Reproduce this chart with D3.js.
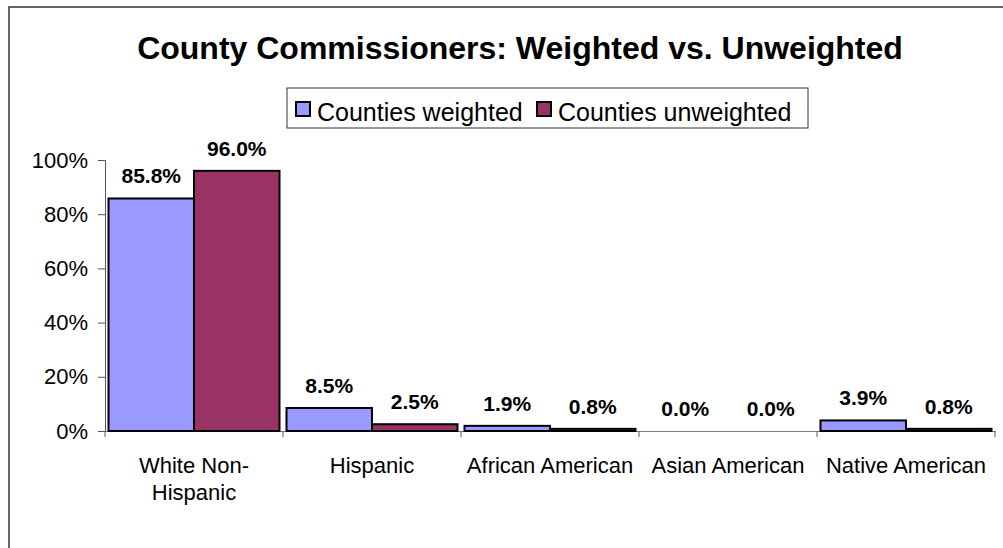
<!DOCTYPE html>
<html>
<head>
<meta charset="utf-8">
<script src="https://cdn.jsdelivr.net/npm/d3@7"></script>
<style>
  body { margin: 0; background: #fff; }
  text { font-family: "Liberation Sans", Arial, sans-serif; fill: #000; }
</style>
</head>
<body>
<div id="chart"></div>
<script>
// data
const categories = ["White Non-Hispanic", "Hispanic", "African American", "Asian American", "Native American"];
const seriesNames = ["Counties weighted", "Counties unweighted"];
const weighted = [0.858, 0.085, 0.019, 0.0, 0.039];
const unweighted = [0.960, 0.025, 0.008, 0.0, 0.008];
const yTicks = [0, 0.2, 0.4, 0.6, 0.8, 1.0];
const seriesColors = ["#9999FF", "#993366"];

const W = 1003, H = 548;
const svg = d3.select("#chart")
              .append("svg")
              .attr("width", W)
              .attr("height", H);

// outer chart border
svg.append("rect")
   .attr("x", 9).attr("y", 7)
   .attr("width", 1010).attr("height", 560)
   .attr("fill", "none")
   .attr("stroke", "#333")
   .attr("stroke-width", 1.5);

// title
svg.append("text")
   .attr("x", 520)
   .attr("y", 59)
   .attr("text-anchor", "middle")
   .style("font-weight", "bold")
   .style("font-size", "32px")
   .text("County Commissioners: Weighted vs. Unweighted");

const plot = {left: 105, right: 995, top: 160, bottom: 431};

const x0 = d3.scaleBand()
             .domain(categories)
             .range([plot.left, plot.right])
             .paddingInner(0);
const x1 = d3.scaleBand()
             .domain(seriesNames)
             .range([3.5, x0.bandwidth() - 3.5]);
const y = d3.scaleLinear()
            .domain([0, 1])
            .range([plot.bottom, plot.top]);

const rows = categories.map((c, i) => ({
    category: c,
    values: [weighted[i], unweighted[i]]
}));

// y axis
const yAxis = svg.append("g")
   .attr("transform", "translate(" + plot.left + ",0)")
   .call(d3.axisLeft(y).tickValues(yTicks).tickFormat(d3.format(".0%")).tickSize(7).tickPadding(10));
yAxis.select(".domain").attr("stroke", "#555");
yAxis.selectAll(".tick line").attr("stroke", "#555");
yAxis.selectAll("text").style("font-size", "22px").attr("font-family", null);

// x axis
const xAxis = svg.append("g")
   .attr("transform", "translate(0," + plot.bottom + ")")
   .call(d3.axisBottom(x0).tickSize(0).tickPadding(0));
xAxis.select(".domain").attr("stroke", "#808080");
xAxis.selectAll(".tick text").remove();
// category tick marks at band edges
xAxis.selectAll(".edge")
     .data(categories.concat(["__end"]))
     .enter()
     .append("line")
     .attr("class", "edge")
     .attr("x1", (d, i) => i < categories.length ? x0(d) : plot.right)
     .attr("x2", (d, i) => i < categories.length ? x0(d) : plot.right)
     .attr("y1", 0)
     .attr("y2", 6)
     .attr("stroke", "#555");

// category labels, break after hyphen
const catLabels = svg.selectAll(".cat")
     .data(categories)
     .enter()
     .append("text")
     .attr("class", "cat")
     .attr("text-anchor", "middle")
     .style("font-size", "22px");
catLabels.each(function(d) {
    const lines = d.split(/(?<=-)/);
    const t = d3.select(this);
    lines.forEach((ln, k) => {
        t.append("tspan")
         .attr("x", x0(d) + x0.bandwidth() / 2)
         .attr("y", 473 + k * 27)
         .text(ln);
    });
});

// bars
const groups = svg.selectAll(".grp")
     .data(rows)
     .enter()
     .append("g")
     .attr("class", "grp")
     .attr("transform", d => "translate(" + x0(d.category) + ",0)");

groups.selectAll("rect")
      .data(d => d.values.map((v, i) => ({series: seriesNames[i], value: v, idx: i})))
      .enter()
      .append("rect")
      .attr("x", d => x1(d.series))
      .attr("y", d => y(d.value))
      .attr("width", x1.bandwidth())
      .attr("height", d => y(0) - y(d.value))
      .attr("fill", d => seriesColors[d.idx])
      .attr("stroke", "#000")
      .attr("stroke-width", 2);

groups.selectAll(".lbl")
      .data(d => d.values.map((v, i) => ({series: seriesNames[i], value: v})))
      .enter()
      .append("text")
      .attr("class", "lbl")
      .attr("x", d => x1(d.series) + x1.bandwidth() / 2)
      .attr("y", d => y(d.value) - 15)
      .attr("text-anchor", "middle")
      .style("font-weight", "bold")
      .style("font-size", "21px")
      .text(d => d3.format(".1%")(d.value));

// legend
const legend = svg.append("g");
legend.append("rect")
      .attr("x", 287).attr("y", 88)
      .attr("width", 521).attr("height", 40)
      .attr("fill", "#fff")
      .attr("stroke", "#333")
      .attr("stroke-width", 1);
const legendX = [296, 537];
seriesNames.forEach((s, i) => {
    legend.append("rect")
          .attr("x", legendX[i]).attr("y", 102)
          .attr("width", 14).attr("height", 14)
          .attr("fill", seriesColors[i])
          .attr("stroke", "#000")
          .attr("stroke-width", 2);
    legend.append("text")
          .attr("x", legendX[i] + 21)
          .attr("y", 121)
          .style("font-size", "25px")
          .text(s);
});
</script>
</body>
</html>
